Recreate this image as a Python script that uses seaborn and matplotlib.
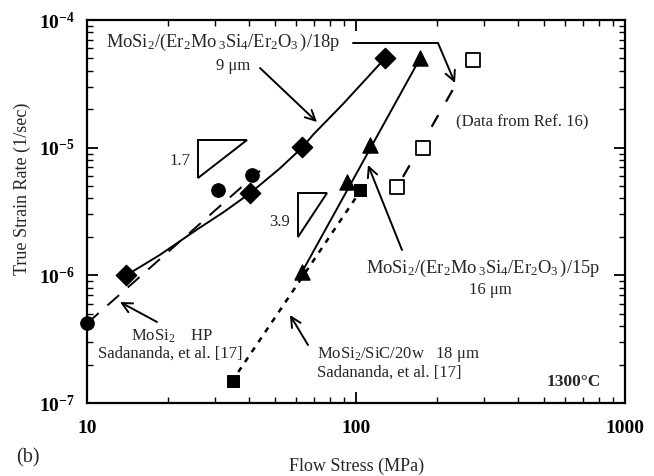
import matplotlib
matplotlib.use("Agg")
import matplotlib.pyplot as plt
from matplotlib.patches import Polygon
from matplotlib.lines import Line2D
import seaborn as sns
import numpy as np

# ---------------- data ----------------
# MoSi2/(Er2Mo3Si4/Er2O3)/18p, 9 um  (filled diamonds)
p18_stress = [14, 40.4, 63, 128]
p18_rate = [1.0e-6, 4.4e-6, 1.01e-5, 5.0e-5]
# curve drawn through the 18p data
p18_curve_stress = [14, 18.7, 25.6, 32.0, 40.4, 52.2, 63, 69.2, 89.5, 109.9, 128]
p18_curve_rate = [1.0e-6, 1.45e-6, 2.28e-6, 3.1e-6, 4.4e-6, 6.9e-6, 1.0e-5,
                  1.26e-5, 2.2e-5, 3.52e-5, 5.0e-5]

# MoSi2 HP, Sadananda et al. [17]  (filled circles)
hp_stress = [10, 30.7, 41]
hp_rate = [4.2e-7, 4.66e-6, 6.1e-6]
hp_line_stress = [10, 44]
hp_line_rate = [4.2e-7, 6.6e-6]

# MoSi2/(Er2Mo3Si4/Er2O3)/15p, 16 um (filled triangles)
p15_stress = [63, 92.6, 112.7, 173]
p15_rate = [1.06e-6, 5.4e-6, 1.05e-5, 5.0e-5]
p15_line_stress = [62, 173]
p15_line_rate = [1.0e-6, 5.0e-5]

# MoSi2/SiC/20w, 18 um, Sadananda et al. [17] (filled squares)
sic_stress = [34.9, 103.5]
sic_rate = [1.5e-7, 4.66e-6]
sic_line_stress = [36.5, 101]
sic_line_rate = [1.75e-7, 4.2e-6]

# Data from Ref. 16 (open squares)
ref16_stress = [142, 177, 272]
ref16_rate = [4.9e-6, 1.0e-5, 4.9e-5]
ref16_line_stress = [149.5, 243.6]
ref16_line_rate = [5.9e-6, 3.57e-5]

x_ticks = [10, 100, 1000]
x_tick_labels = ["10", "100", "1000"]
y_ticks = [1e-7, 1e-6, 1e-5, 1e-4]
y_tick_labels = [r"$\mathbf{10^{-7}}$", r"$\mathbf{10^{-6}}$",
                 r"$\mathbf{10^{-5}}$", r"$\mathbf{10^{-4}}$"]

# ---------------- style ----------------
sns.set_theme(style="ticks")
plt.rcParams["font.family"] = ["Liberation Serif", "DejaVu Serif"]
plt.rcParams["mathtext.fontset"] = "custom"
plt.rcParams["mathtext.rm"] = "Liberation Serif"
plt.rcParams["mathtext.it"] = "Liberation Serif:italic"
plt.rcParams["mathtext.bf"] = "Liberation Serif:bold"

W, H = 654, 476
fig = plt.figure(figsize=(W / 100, H / 100), dpi=100)
fig.patch.set_facecolor("white")


def P(px, py):
    return (px / W, 1 - py / H)


ax = fig.add_axes([87 / W, 1 - 403 / H, (625 - 87) / W, (403 - 20) / H])
ax.set_facecolor("white")
ax.set_xscale("log")
ax.set_yscale("log")

K = "black"
# lines
sns.lineplot(x=p18_curve_stress, y=p18_curve_rate, ax=ax, color=K, lw=1.4,
             estimator=None, sort=False)
sns.lineplot(x=hp_line_stress, y=hp_line_rate, ax=ax, color=K, lw=1.4,
             estimator=None, sort=False, linestyle=(0, (8, 6)))
sns.lineplot(x=p15_line_stress, y=p15_line_rate, ax=ax, color=K, lw=1.4,
             estimator=None, sort=False)
sns.lineplot(x=sic_line_stress, y=sic_line_rate, ax=ax, color=K, lw=1.8,
             estimator=None, sort=False, linestyle=(0, (2.2, 2.6)))
sns.lineplot(x=ref16_line_stress, y=ref16_line_rate, ax=ax, color=K, lw=1.6,
             estimator=None, sort=False, linestyle=(0, (6, 7)))

# markers
sns.scatterplot(x=p18_stress, y=p18_rate, ax=ax, marker="D", s=110, color=K,
                edgecolor=K, zorder=5, clip_on=False)
sns.scatterplot(x=hp_stress, y=hp_rate, ax=ax, marker="o", s=95, color=K,
                edgecolor=K, zorder=5, clip_on=False)
sns.scatterplot(x=p15_stress, y=p15_rate, ax=ax, marker="^", s=120, color=K,
                edgecolor=K, zorder=5, clip_on=False)
sns.scatterplot(x=sic_stress, y=sic_rate, ax=ax, marker="s", s=75, color=K,
                edgecolor=K, zorder=5, clip_on=False)
sns.scatterplot(x=ref16_stress, y=ref16_rate, ax=ax, marker="s", s=105,
                facecolor="white", edgecolor=K, linewidth=1.3, zorder=5,
                clip_on=False)

ax.set_xlim(10, 1000)
ax.set_ylim(1e-7, 1e-4)
ax.set_xticks(x_ticks)
ax.set_xticklabels(x_tick_labels, fontweight="bold", fontsize=14)
ax.set_yticks(y_ticks)
ax.set_yticklabels(y_tick_labels, fontsize=14)
ax.xaxis.set_minor_locator(matplotlib.ticker.LogLocator(base=10, subs=np.arange(2, 10)))
ax.yaxis.set_minor_locator(matplotlib.ticker.LogLocator(base=10, subs=np.arange(2, 10)))
ax.xaxis.set_minor_formatter(matplotlib.ticker.NullFormatter())
ax.yaxis.set_minor_formatter(matplotlib.ticker.NullFormatter())
ax.tick_params(which="both", direction="in", top=True, right=True, color=K)
ax.tick_params(which="major", length=8, width=1.3, labelcolor=K)
ax.tick_params(axis="x", which="major", pad=12)
ax.tick_params(axis="y", which="major", pad=9)
ax.tick_params(which="minor", length=4, width=1.0)
for s in ax.spines.values():
    s.set_linewidth(1.6)
    s.set_color(K)
ax.set_xlabel("")
ax.set_ylabel("")

FS = 12
FF = 13.3
fig.text(*P(357, 466), "Flow Stress (MPa)", ha="center", va="center", fontsize=13)
fig.text(*P(22, 189), "True Strain Rate (1/sec)", ha="center", va="center",
         rotation=90, fontsize=13)
fig.text(*P(28, 458), "(b)", ha="center", va="center", fontsize=14.5)

fig.text(*P(223, 42), r"MoSi$_2$/(Er$_2$Mo$\,_3$Si$_4$/Er$_2$O$_3\,$)/18p",
         ha="center", va="center", fontsize=FF)
fig.text(*P(233, 66), "9 μm", ha="center", va="center", fontsize=FS)
fig.text(*P(522, 122), "(Data from Ref. 16)", ha="center", va="center", fontsize=FS)
fig.text(*P(180, 161), "1.7", ha="center", va="center", fontsize=FS)
fig.text(*P(280, 222), "3.9", ha="center", va="center", fontsize=FS)
fig.text(*P(172, 336), r"MoSi$_2$    HP", ha="center", va="center", fontsize=FS)
fig.text(*P(170, 354), "Sadananda, et al. [17]", ha="center", va="center", fontsize=FS)
fig.text(*P(317, 355), r"MoSi$_2$/SiC/20w   18 μm", ha="left", va="center", fontsize=FS)
fig.text(*P(317, 373), "Sadananda, et al. [17]", ha="left", va="center", fontsize=FS)
fig.text(*P(483, 268), r"MoSi$_2$/(Er$_2$Mo$\,_3$Si$_4$/Er$_2$O$_3\,$)/15p",
         ha="center", va="center", fontsize=FF)
fig.text(*P(490, 290), "16 μm", ha="center", va="center", fontsize=FS)
fig.text(*P(574, 382), "1300°C", ha="center", va="center", fontsize=12.5,
         fontweight="bold")

arrow_kw = dict(arrowstyle="->", color=K, lw=1.4, mutation_scale=18,
                shrinkA=0, shrinkB=0)
for tail, head in [((260, 68), (317, 122)),
                   ((157, 322), (120, 302)),
                   ((308, 345), (290, 315)),
                   ((402, 250), (368, 165)),
                   ((438, 43), (455, 83))]:
    ax.annotate("", xy=P(*head), xycoords="figure fraction",
                xytext=P(*tail), textcoords="figure fraction",
                arrowprops=arrow_kw, annotation_clip=False)
fig.add_artist(Line2D([P(353, 43)[0], P(438, 43)[0]], [P(353, 43)[1], P(438, 43)[1]],
                      color=K, lw=1.4, transform=fig.transFigure))

for tri in [[(198, 140), (247, 140), (198, 178)],
            [(298, 193), (327, 193), (298, 237)]]:
    fig.add_artist(Polygon([P(*v) for v in tri], closed=True, fill=False,
                           edgecolor=K, lw=1.4, transform=fig.transFigure))

fig.savefig("out.png", dpi=100, facecolor="white")
